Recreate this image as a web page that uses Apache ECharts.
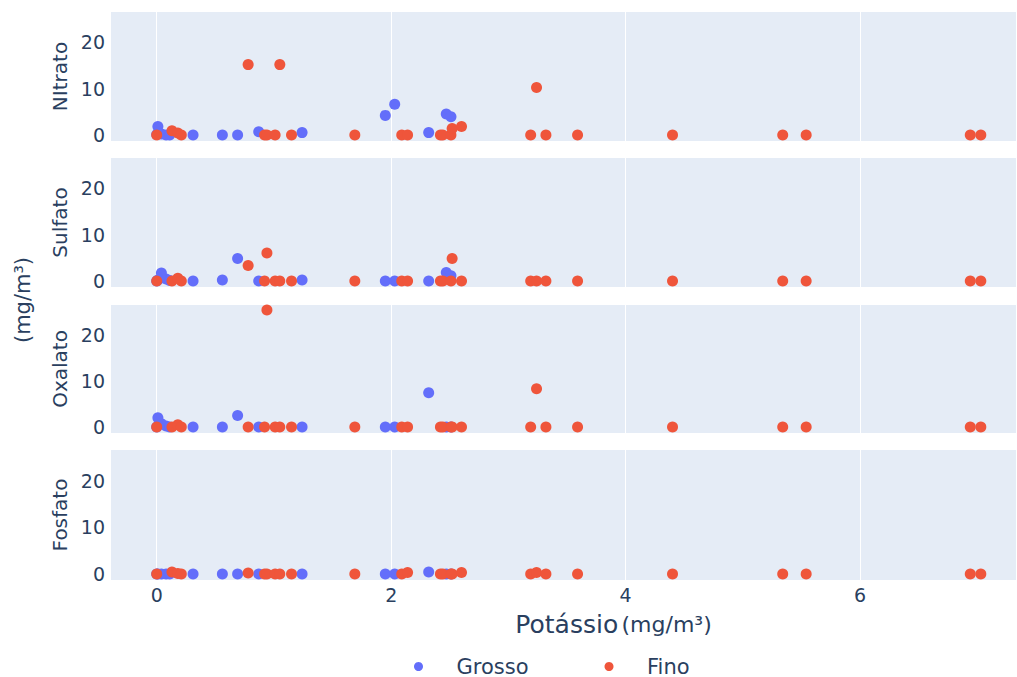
<!DOCTYPE html>
<html><head><meta charset="utf-8">
<script src="https://cdn.jsdelivr.net/npm/echarts@6/dist/echarts.min.js"></script>
<style>html,body{margin:0;padding:0;background:#fff}#c{width:1017px;height:677px}</style>
</head><body><div id="c"></div>
<script>
const panels = ['NItrato', 'Sulfato', 'Oxalato', 'Fosfato'];
const xTicks = [0, 2, 4, 6];
const yTicks = [0, 10, 20];

const grossoK       = [0.00, 0.01, 0.04, 0.08, 0.11, 0.31, 0.56, 0.69, 0.87, 1.24, 1.95, 2.03, 2.32, 2.47, 2.51];
const grossoNitrato = [0.2, 1.9, 0.3, 0.1, 0.1, 0.1, 0.1, 0.1, 0.8, 0.6, 4.3, 6.7, 0.6, 4.6, 4.0];
const grossoSulfato = [0.1, 0.3, 1.8, 0.5, 0.2, 0.1, 0.3, 4.9, 0.1, 0.3, 0.1, 0.1, 0.1, 1.9, 1.2];
const grossoOxalato = [0.1, 2.1, 0.8, 0.3, 0.1, 0.1, 0.1, 2.6, 0.1, 0.1, 0.1, 0.1, 7.5, 0.1, 0.1];
const grossoFosfato = [0.1, 0.1, 0.1, 0.1, 0.1, 0.1, 0.1, 0.1, 0.1, 0.1, 0.1, 0.1, 0.5, 0.1, 0.1];

const finoK       = [0.00, 0.13, 0.18, 0.21, 0.78, 0.92, 0.94, 1.01, 1.05, 1.15, 1.69, 2.09, 2.14, 2.42, 2.44, 2.51, 2.52, 2.60, 3.19, 3.24, 3.32, 3.59, 4.40, 5.34, 5.54, 6.94, 7.03];
const finoNitrato = [0.1, 1.0, 0.5, 0.1, 15.2, 0.1, 0.1, 0.1, 15.2, 0.1, 0.1, 0.1, 0.1, 0.1, 0.1, 0.1, 1.5, 1.9, 0.1, 10.3, 0.1, 0.1, 0.1, 0.1, 0.1, 0.1, 0.1];
const finoSulfato = [0.1, 0.1, 0.7, 0.1, 3.4, 0.1, 6.1, 0.1, 0.1, 0.1, 0.1, 0.1, 0.1, 0.1, 0.1, 0.1, 4.9, 0.1, 0.1, 0.1, 0.1, 0.1, 0.1, 0.1, 0.1, 0.1, 0.1];
const finoOxalato = [0.1, 0.1, 0.6, 0.1, 0.1, 0.1, 25.4, 0.1, 0.1, 0.1, 0.1, 0.1, 0.1, 0.1, 0.1, 0.1, 0.1, 0.1, 0.1, 8.4, 0.1, 0.1, 0.1, 0.1, 0.1, 0.1, 0.1];
const finoFosfato = [0.1, 0.5, 0.2, 0.1, 0.3, 0.1, 0.1, 0.1, 0.1, 0.1, 0.1, 0.1, 0.4, 0.1, 0.1, 0.1, 0.1, 0.4, 0.1, 0.4, 0.1, 0.1, 0.1, 0.1, 0.1, 0.1, 0.1];

const grossoY = [grossoNitrato, grossoSulfato, grossoOxalato, grossoFosfato];
const finoY = [finoNitrato, finoSulfato, finoOxalato, finoFosfato];

const FONT = 'DejaVu Sans';
const TXT = '#2a3f5f';
const tops = [12, 158, 305, 450];
const heights = [129, 129, 128, 130];

const grids = [], xAxes = [], yAxes = [], series = [];
panels.forEach((p, i) => {
  grids.push({left: 111, right: 1, top: tops[i], height: heights[i], show: true,
    backgroundColor: '#E5ECF6', borderWidth: 0});
  xAxes.push({type: 'value', gridIndex: i, min: -0.39, max: 7.33,
    axisLine: {show: false},
    axisTick: {show: false, customValues: xTicks},
    axisLabel: {show: i === 3, customValues: xTicks, color: TXT, fontFamily: FONT, fontSize: 19, margin: 5},
    splitLine: {show: true, lineStyle: {color: '#ffffff', width: 1}},
    name: i === 3 ? '{a|Potássio} {b|(mg/m³)}' : '',
    nameLocation: 'middle', nameGap: 32,
    nameTextStyle: {padding: [0, 0, 0, 100], rich: {
      a: {fontFamily: FONT, fontSize: 25, color: TXT},
      b: {fontFamily: FONT, fontSize: 22, color: TXT}
    }}
  });
  yAxes.push({type: 'value', gridIndex: i, min: -1.2, max: 26.5,
    axisLine: {show: false},
    axisTick: {show: false, customValues: yTicks},
    axisLabel: {customValues: yTicks, color: TXT, fontFamily: FONT, fontSize: 19, margin: 6},
    splitLine: {show: false},
    name: p, nameLocation: 'middle', nameGap: 35, nameRotate: 90,
    nameTextStyle: {fontFamily: FONT, fontSize: 20, color: TXT}
  });
  series.push({type: 'scatter', name: 'Grosso', xAxisIndex: i, yAxisIndex: i,
    symbolSize: 11, itemStyle: {color: '#636EFA', opacity: 1},
    emphasis: {disabled: true},
    data: grossoK.map((k, j) => [k, grossoY[i][j]])});
  series.push({type: 'scatter', name: 'Fino', xAxisIndex: i, yAxisIndex: i,
    symbolSize: 11, itemStyle: {color: '#EF553B', opacity: 1},
    emphasis: {disabled: true},
    data: finoK.map((k, j) => [k, finoY[i][j]])});
});

const chart = echarts.init(document.getElementById('c'), null, {renderer: 'svg'});
chart.setOption({
  animation: false,
  backgroundColor: '#ffffff',
  grid: grids, xAxis: xAxes, yAxis: yAxes, series: series,
  legend: {data: ['Grosso', 'Fino'], left: 409, top: 651, icon: 'circle',
    itemWidth: 66, itemHeight: 9, itemGap: 76,
    textStyle: {fontFamily: FONT, fontSize: 21, color: TXT}},
  graphic: [{type: 'text', x: 23, y: 300, rotation: Math.PI / 2,
    style: {text: '(mg/m³)', fontFamily: FONT, fontSize: 21, fill: TXT,
      align: 'center', verticalAlign: 'middle'}}]
});
</script></body></html>
